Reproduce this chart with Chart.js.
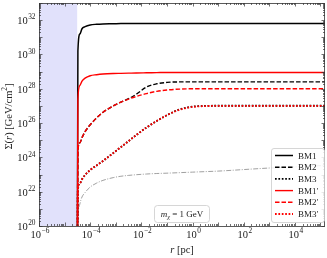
<!DOCTYPE html>
<html>
<head>
<meta charset="utf-8">
<script src="https://cdn.jsdelivr.net/npm/chart.js@4.4.0/dist/chart.umd.min.js"></script>
<style>
html, body { margin: 0; padding: 0; background: #fff; }
canvas { display: block; }
</style>
</head>
<body>
<canvas id="myChart" width="327" height="258"></canvas>
<script>
// log10 of r [pc]
const logR = [-4.50, -4.48, -4.40, -4.32, -4.20, -4.00, -3.75, -3.50, -3.10, -2.80, -2.50, -2.20,
              -1.80, -1.40, -1.00, -0.50, 0.00, 0.50, 1.00, 2.00, 3.00, 4.00, 5.20];

// log10 of Sigma(r) [GeV/cm^2]
const logBM1  = [18, 30.2, 31.2, 31.5, 31.62, 31.72, 31.76, 31.78, 31.79, 31.8, 31.8, 31.8,
                 31.8, 31.8, 31.8, 31.8, 31.8, 31.8, 31.8, 31.8, 31.8, 31.8, 31.8];
const logBM2  = [18, 24.4, 24.85, 25.15, 25.5, 25.9, 26.3, 26.63, 27.0, 27.22, 27.42, 27.68,
                 28.1, 28.29, 28.37, 28.4, 28.4, 28.4, 28.4, 28.4, 28.4, 28.4, 28.4];
const logBM3  = [18, 22.1, 22.5, 22.72, 22.97, 23.26, 23.53, 23.79, 24.25, 24.6, 24.95, 25.3,
                 25.74, 26.12, 26.46, 26.8, 26.96, 27.0, 27.01, 27.01, 27.01, 27.01, 27.01];
const logBM1p = [18, 27.4, 28.2, 28.45, 28.62, 28.76, 28.82, 28.86, 28.89, 28.9, 28.91, 28.92,
                 28.93, 28.94, 28.95, 28.95, 28.95, 28.95, 28.95, 28.95, 28.95, 28.95, 28.95];
const logBM2p = [18, 24.4, 24.85, 25.15, 25.5, 25.9, 26.3, 26.63, 27.0, 27.22, 27.4, 27.55,
                 27.72, 27.85, 27.93, 27.98, 28.0, 28.0, 28.0, 28.0, 28.0, 28.0, 28.0];
const logBM3p = [18, 22.1, 22.5, 22.72, 22.97, 23.26, 23.53, 23.79, 24.25, 24.6, 24.95, 25.3,
                 25.74, 26.12, 26.46, 26.78, 26.94, 26.99, 27.0, 27.0, 27.0, 27.0, 27.0];
const logGray = [19, 20.4, 21.3, 21.69, 21.95, 22.27, 22.5, 22.66, 22.82, 22.9, 22.95, 22.99,
                 23.03, 23.06, 23.08, 23.11, 23.14, 23.17, 23.2, 23.29, 23.38, 23.45, 23.53];

const xRange = [1e-6, 1.5e5];
const yRange = [1e20, 1e33];
const shadeRange = [1e-6, 3.1e-5];
const xTickExps = [-6, -4, -2, 0, 2, 4];
const yTickExps = [20, 22, 24, 26, 28, 30, 32];

const SERIF = '"Liberation Serif", "DejaVu Serif", serif';

function pts(logs) {
    return logR.map((lr, i) => ({ x: Math.pow(10, lr), y: Math.pow(10, logs[i]) }));
}

function mk(label, logs, color, width, dash, order) {
    return {
        label: label,
        data: pts(logs),
        borderColor: color,
        borderWidth: width,
        borderDash: dash,
        borderCapStyle: 'butt',
        pointRadius: 0,
        fill: false,
        cubicInterpolationMode: 'monotone',
        order: order
    };
}

// draws 10^n with a raised exponent
function drawPow(ctx, exp, x, y, align, size) {
    const base = '10';
    const sup = exp < 0 ? '\u2212' + (-exp) : String(exp);
    ctx.font = size + 'px ' + SERIF;
    const wb = ctx.measureText(base).width;
    ctx.font = (size * 0.7) + 'px ' + SERIF;
    const ws = ctx.measureText(sup).width;
    const w = wb + ws + 0.5;
    const x0 = align === 'center' ? x - w / 2 : x - w;
    ctx.textAlign = 'left';
    ctx.textBaseline = 'alphabetic';
    ctx.font = size + 'px ' + SERIF;
    ctx.fillText(base, x0, y);
    ctx.font = (size * 0.7) + 'px ' + SERIF;
    ctx.fillText(sup, x0 + wb + 0.5, y - size * 0.45);
}

// draws a list of [text, font, dy] pieces centred on x
function drawParts(ctx, parts, x, y) {
    let w = 0;
    parts.forEach(p => { ctx.font = p[1]; w += ctx.measureText(p[0]).width; });
    let cx = x - w / 2;
    ctx.textAlign = 'left';
    parts.forEach(p => {
        ctx.font = p[1];
        ctx.fillText(p[0], cx, y + (p[2] || 0));
        cx += ctx.measureText(p[0]).width;
    });
}

const decor = {
    id: 'decor',
    beforeDatasetsDraw(chart) {
        const ctx = chart.ctx, a = chart.chartArea, xs = chart.scales.x;
        const x0 = xs.getPixelForValue(shadeRange[0]);
        const x1 = xs.getPixelForValue(shadeRange[1]);
        ctx.save();
        ctx.fillStyle = '#e1e1fb';
        ctx.fillRect(x0, a.top, x1 - x0, a.bottom - a.top);
        ctx.restore();
    },
    afterDatasetsDraw(chart) {
        const ctx = chart.ctx, a = chart.chartArea;
        const xs = chart.scales.x, ys = chart.scales.y;
        ctx.save();
        ctx.strokeStyle = '#333';
        ctx.lineWidth = 0.7;
        ctx.setLineDash([]);
        ctx.beginPath();
        // x ticks, top and bottom
        for (let d = -6; d <= 5; d++) {
            for (let k = 1; k <= 9; k++) {
                const v = k * Math.pow(10, d);
                if (v < xs.min || v > xs.max) continue;
                const px = Math.round(xs.getPixelForValue(v)) + 0.5;
                const len = k === 1 ? 3.5 : 2;
                ctx.moveTo(px, a.bottom); ctx.lineTo(px, a.bottom - len);
                ctx.moveTo(px, a.top); ctx.lineTo(px, a.top + len);
            }
        }
        // y ticks, left and right
        for (let d = 20; d <= 33; d++) {
            for (let k = 1; k <= 9; k++) {
                const v = k * Math.pow(10, d);
                if (v < ys.min || v > ys.max) continue;
                const py = Math.round(ys.getPixelForValue(v)) + 0.5;
                const len = k === 1 ? 3.5 : 2;
                ctx.moveTo(a.left, py); ctx.lineTo(a.left + len, py);
                ctx.moveTo(a.right, py); ctx.lineTo(a.right - len, py);
            }
        }
        ctx.stroke();
        ctx.lineWidth = 0.8;
        ctx.strokeRect(Math.round(a.left) + 0.5, Math.round(a.top) + 0.5,
                       Math.round(a.right - a.left) - 1, Math.round(a.bottom - a.top));

        // tick labels
        ctx.fillStyle = '#222';
        xTickExps.forEach(e => drawPow(ctx, e, xs.getPixelForValue(Math.pow(10, e)) + 1, a.bottom + 11.5, 'center', 10.5));
        yTickExps.forEach(e => drawPow(ctx, e, a.left - 3.5, ys.getPixelForValue(Math.pow(10, e)) + 4, 'right', 10.5));

        // axis titles
        const nf = '10.5px ' + SERIF, itf = 'italic 10.5px ' + SERIF, sf = '7.5px ' + SERIF;
        ctx.textBaseline = 'alphabetic';
        drawParts(ctx, [['r', itf], [' [pc]', nf]], (a.left + a.right) / 2, 253);
        ctx.save();
        ctx.translate(11.5, (a.top + a.bottom) / 2 + 2);
        ctx.rotate(-Math.PI / 2);
        drawParts(ctx, [['\u03A3(', nf], ['r', itf], [') [GeV/cm', nf], ['2', sf, -4.5], [']', nf]], 0, 0);
        ctx.restore();

        // annotation box
        ctx.fillStyle = '#fff';
        ctx.strokeStyle = '#cccccc';
        ctx.lineWidth = 0.8;
        ctx.beginPath();
        ctx.roundRect(154.5, 205.5, 55, 17, 3);
        ctx.fill();
        ctx.stroke();
        ctx.fillStyle = '#222';
        drawParts(ctx, [['m', 'italic 9px ' + SERIF], ['\u03C7', 'italic 6.5px ' + SERIF, 2], [' = 1 GeV', '9px ' + SERIF]], 182, 216.5);

        // legend
        ctx.fillStyle = 'rgba(255,255,255,0.85)';
        ctx.strokeStyle = '#cccccc';
        ctx.beginPath();
        ctx.roundRect(271.5, 148.5, 53, 74, 2.5);
        ctx.fill();
        ctx.stroke();
        const items = chart.data.datasets.filter(ds => ds.label);
        items.forEach((ds, i) => {
            const yy = 155.5 + i * 11.7;
            ctx.strokeStyle = ds.borderColor;
            ctx.lineWidth = ds.borderWidth;
            ctx.setLineDash(ds.borderDash);
            ctx.lineCap = 'butt';
            ctx.beginPath();
            ctx.moveTo(275, yy);
            ctx.lineTo(293, yy);
            ctx.stroke();
            ctx.setLineDash([]);
            ctx.fillStyle = '#222';
            ctx.font = '9px ' + SERIF;
            ctx.textAlign = 'left';
            ctx.fillText(ds.label, 298, yy + 3);
        });
        ctx.restore();
    }
};

const ctx1 = document.getElementById('myChart').getContext('2d');
const chart1 = new Chart(ctx1, {
    type: 'line',
    data: {
        datasets: [
            mk('BM1', logBM1, '#000000', 1.5, [], 1),
            mk('BM2', logBM2, '#000000', 1.4, [4.5, 2], 1),
            mk('BM3', logBM3, '#000000', 1.8, [1.7, 1.7], 1),
            mk('BM1\u2032', logBM1p, '#ff0000', 1.4, [], 0),
            mk('BM2\u2032', logBM2p, '#ff0000', 1.4, [4.5, 2], 0),
            mk('BM3\u2032', logBM3p, '#ff0000', 1.8, [1.7, 1.7], 0),
            mk('', logGray, '#888888', 0.8, [5, 1.5, 1, 1.5], 2)
        ]
    },
    options: {
        responsive: false,
        devicePixelRatio: 1,
        animation: false,
        layout: { padding: { top: 3, right: 2, left: 0, bottom: 0 } },
        plugins: {
            legend: { display: false },
            tooltip: { enabled: false }
        },
        scales: {
            x: {
                type: 'logarithmic',
                min: xRange[0],
                max: xRange[1],
                grid: { display: false },
                border: { display: false },
                ticks: { display: false },
                afterFit: s => { s.height = 32; }
            },
            y: {
                type: 'logarithmic',
                min: yRange[0],
                max: yRange[1],
                grid: { display: false },
                border: { display: false },
                ticks: { display: false },
                afterFit: s => { s.width = 39; }
            }
        }
    },
    plugins: [decor]
});
</script>
</body>
</html>
